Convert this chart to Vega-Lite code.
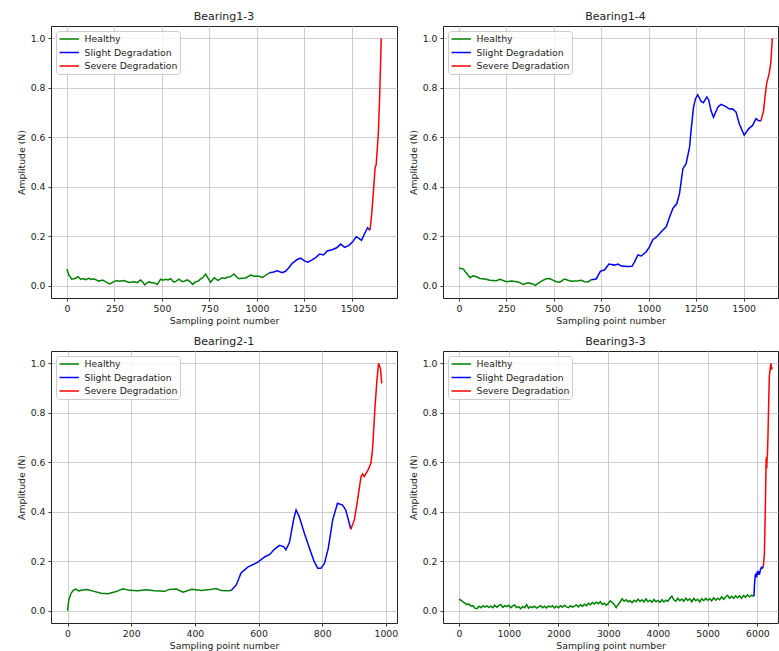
{
  "$schema": "https://vega.github.io/schema/vega-lite/v6.json",
  "padding": {"left": 16, "top": 10, "right": 0, "bottom": 0},
  "autosize": {"type": "pad"},
  "background": "white",
  "config": {
    "font": "DejaVu Sans",
    "view": {"stroke": "#222222", "strokeWidth": 1},
    "axis": {
      "labelFont": "DejaVu Sans", "titleFont": "DejaVu Sans",
      "labelFontSize": 9.3, "titleFontSize": 9.3, "titleFontWeight": "normal",
      "labelColor": "#222222", "titleColor": "#222222", "tickColor": "#222222",
      "tickSize": 3, "tickWidth": 0.9, "labelPadding": 3, "domain": false,
      "grid": true, "gridColor": "#c8c8c8", "gridWidth": 0.9,
      "labelFlush": false, "labelOverlap": false
    },
    "axisY": {"titlePadding": 4},
    "axisX": {"titlePadding": 3},
    "title": {"fontSize": 11, "fontWeight": "normal", "font": "DejaVu Sans", "color": "#222222", "offset": 4, "anchor": "middle"},
    "legend": {
      "orient": "top-left", "offset": 5,
      "symbolType": "M-0.89,0H2.99", "symbolSize": 100, "symbolStrokeWidth": 1.5,
      "labelFont": "DejaVu Sans", "labelFontSize": 9.3, "labelColor": "#222222", "labelOffset": 14.5, "labelLimit": 0,
      "rowPadding": 1.5, "padding": 2,
      "fillColor": "rgba(255,255,255,0.8)", "strokeColor": "#cccccc", "cornerRadius": 3
    },
    "line": {"strokeWidth": 1.5}
  },
  "datasets": {
    "b13": [
      {"x": 0, "y": 0.066, "s": "Healthy"}, {"x": 10, "y": 0.043, "s": "Healthy"}, {"x": 25, "y": 0.026, "s": "Healthy"}, {"x": 46, "y": 0.03, "s": "Healthy"}, {"x": 58, "y": 0.036, "s": "Healthy"}, {"x": 72, "y": 0.026, "s": "Healthy"}, {"x": 85, "y": 0.029, "s": "Healthy"}, {"x": 98, "y": 0.024, "s": "Healthy"}, {"x": 116, "y": 0.03, "s": "Healthy"}, {"x": 130, "y": 0.025, "s": "Healthy"}, {"x": 142, "y": 0.028, "s": "Healthy"}, {"x": 168, "y": 0.018, "s": "Healthy"}, {"x": 186, "y": 0.023, "s": "Healthy"}, {"x": 200, "y": 0.017, "s": "Healthy"}, {"x": 212, "y": 0.012, "s": "Healthy"}, {"x": 226, "y": 0.007, "s": "Healthy"}, {"x": 247, "y": 0.016, "s": "Healthy"}, {"x": 262, "y": 0.021, "s": "Healthy"}, {"x": 274, "y": 0.018, "s": "Healthy"}, {"x": 300, "y": 0.021, "s": "Healthy"}, {"x": 315, "y": 0.016, "s": "Healthy"}, {"x": 326, "y": 0.013, "s": "Healthy"}, {"x": 353, "y": 0.016, "s": "Healthy"}, {"x": 370, "y": 0.012, "s": "Healthy"}, {"x": 388, "y": 0.023, "s": "Healthy"}, {"x": 398, "y": 0.015, "s": "Healthy"}, {"x": 409, "y": 0.003, "s": "Healthy"}, {"x": 420, "y": 0.01, "s": "Healthy"}, {"x": 432, "y": 0.015, "s": "Healthy"}, {"x": 445, "y": 0.012, "s": "Healthy"}, {"x": 458, "y": 0.012, "s": "Healthy"}, {"x": 475, "y": 0.005, "s": "Healthy"}, {"x": 493, "y": 0.026, "s": "Healthy"}, {"x": 505, "y": 0.022, "s": "Healthy"}, {"x": 519, "y": 0.026, "s": "Healthy"}, {"x": 532, "y": 0.023, "s": "Healthy"}, {"x": 546, "y": 0.028, "s": "Healthy"}, {"x": 563, "y": 0.014, "s": "Healthy"}, {"x": 575, "y": 0.018, "s": "Healthy"}, {"x": 589, "y": 0.026, "s": "Healthy"}, {"x": 607, "y": 0.016, "s": "Healthy"}, {"x": 620, "y": 0.019, "s": "Healthy"}, {"x": 633, "y": 0.023, "s": "Healthy"}, {"x": 648, "y": 0.016, "s": "Healthy"}, {"x": 662, "y": 0.005, "s": "Healthy"}, {"x": 677, "y": 0.016, "s": "Healthy"}, {"x": 690, "y": 0.018, "s": "Healthy"}, {"x": 703, "y": 0.026, "s": "Healthy"}, {"x": 718, "y": 0.035, "s": "Healthy"}, {"x": 730, "y": 0.047, "s": "Healthy"}, {"x": 742, "y": 0.03, "s": "Healthy"}, {"x": 756, "y": 0.014, "s": "Healthy"}, {"x": 774, "y": 0.032, "s": "Healthy"}, {"x": 785, "y": 0.026, "s": "Healthy"}, {"x": 795, "y": 0.021, "s": "Healthy"}, {"x": 818, "y": 0.032, "s": "Healthy"}, {"x": 830, "y": 0.029, "s": "Healthy"}, {"x": 844, "y": 0.034, "s": "Healthy"}, {"x": 860, "y": 0.036, "s": "Healthy"}, {"x": 879, "y": 0.047, "s": "Healthy"}, {"x": 892, "y": 0.036, "s": "Healthy"}, {"x": 905, "y": 0.028, "s": "Healthy"}, {"x": 922, "y": 0.03, "s": "Healthy"}, {"x": 940, "y": 0.031, "s": "Healthy"}, {"x": 967, "y": 0.043, "s": "Healthy"}, {"x": 985, "y": 0.038, "s": "Healthy"}, {"x": 1002, "y": 0.039, "s": "Healthy"}, {"x": 1015, "y": 0.037, "s": "Healthy"}, {"x": 1028, "y": 0.033, "s": "Healthy"}, {"x": 1040, "y": 0.038, "s": "Healthy"}, {"x": 1054, "y": 0.047, "s": "Healthy"}, {"x": 1068, "y": 0.052, "s": "Healthy"},
      {"x": 1068, "y": 0.052, "s": "Slight Degradation"}, {"x": 1088, "y": 0.055, "s": "Slight Degradation"}, {"x": 1107, "y": 0.06, "s": "Slight Degradation"}, {"x": 1133, "y": 0.052, "s": "Slight Degradation"}, {"x": 1150, "y": 0.058, "s": "Slight Degradation"}, {"x": 1163, "y": 0.068, "s": "Slight Degradation"}, {"x": 1186, "y": 0.09, "s": "Slight Degradation"}, {"x": 1212, "y": 0.106, "s": "Slight Degradation"}, {"x": 1230, "y": 0.111, "s": "Slight Degradation"}, {"x": 1250, "y": 0.1, "s": "Slight Degradation"}, {"x": 1268, "y": 0.095, "s": "Slight Degradation"}, {"x": 1290, "y": 0.104, "s": "Slight Degradation"}, {"x": 1309, "y": 0.113, "s": "Slight Degradation"}, {"x": 1330, "y": 0.128, "s": "Slight Degradation"}, {"x": 1350, "y": 0.124, "s": "Slight Degradation"}, {"x": 1370, "y": 0.14, "s": "Slight Degradation"}, {"x": 1395, "y": 0.145, "s": "Slight Degradation"}, {"x": 1420, "y": 0.153, "s": "Slight Degradation"}, {"x": 1440, "y": 0.168, "s": "Slight Degradation"}, {"x": 1462, "y": 0.155, "s": "Slight Degradation"}, {"x": 1484, "y": 0.163, "s": "Slight Degradation"}, {"x": 1505, "y": 0.178, "s": "Slight Degradation"}, {"x": 1522, "y": 0.198, "s": "Slight Degradation"}, {"x": 1538, "y": 0.19, "s": "Slight Degradation"}, {"x": 1550, "y": 0.183, "s": "Slight Degradation"}, {"x": 1567, "y": 0.211, "s": "Slight Degradation"}, {"x": 1582, "y": 0.234, "s": "Slight Degradation"}, {"x": 1595, "y": 0.224, "s": "Slight Degradation"},
      {"x": 1595, "y": 0.224, "s": "Severe Degradation"}, {"x": 1605, "y": 0.3, "s": "Severe Degradation"}, {"x": 1613, "y": 0.38, "s": "Severe Degradation"}, {"x": 1622, "y": 0.48, "s": "Severe Degradation"}, {"x": 1627, "y": 0.487, "s": "Severe Degradation"}, {"x": 1633, "y": 0.55, "s": "Severe Degradation"}, {"x": 1639, "y": 0.62, "s": "Severe Degradation"}, {"x": 1645, "y": 0.75, "s": "Severe Degradation"}, {"x": 1650, "y": 0.88, "s": "Severe Degradation"}, {"x": 1654, "y": 1.0, "s": "Severe Degradation"}
    ],
    "b14": [
      {"x": 0, "y": 0.071, "s": "Healthy"}, {"x": 23, "y": 0.067, "s": "Healthy"}, {"x": 40, "y": 0.05, "s": "Healthy"}, {"x": 58, "y": 0.033, "s": "Healthy"}, {"x": 75, "y": 0.04, "s": "Healthy"}, {"x": 93, "y": 0.036, "s": "Healthy"}, {"x": 110, "y": 0.029, "s": "Healthy"}, {"x": 137, "y": 0.027, "s": "Healthy"}, {"x": 163, "y": 0.022, "s": "Healthy"}, {"x": 198, "y": 0.02, "s": "Healthy"}, {"x": 215, "y": 0.026, "s": "Healthy"}, {"x": 251, "y": 0.016, "s": "Healthy"}, {"x": 277, "y": 0.019, "s": "Healthy"}, {"x": 312, "y": 0.015, "s": "Healthy"}, {"x": 338, "y": 0.005, "s": "Healthy"}, {"x": 364, "y": 0.012, "s": "Healthy"}, {"x": 385, "y": 0.008, "s": "Healthy"}, {"x": 403, "y": 0.001, "s": "Healthy"}, {"x": 426, "y": 0.014, "s": "Healthy"}, {"x": 445, "y": 0.022, "s": "Healthy"}, {"x": 461, "y": 0.028, "s": "Healthy"}, {"x": 478, "y": 0.029, "s": "Healthy"}, {"x": 495, "y": 0.022, "s": "Healthy"}, {"x": 513, "y": 0.016, "s": "Healthy"}, {"x": 531, "y": 0.014, "s": "Healthy"}, {"x": 557, "y": 0.027, "s": "Healthy"}, {"x": 575, "y": 0.022, "s": "Healthy"}, {"x": 592, "y": 0.018, "s": "Healthy"}, {"x": 627, "y": 0.02, "s": "Healthy"}, {"x": 645, "y": 0.022, "s": "Healthy"}, {"x": 662, "y": 0.016, "s": "Healthy"}, {"x": 680, "y": 0.015, "s": "Healthy"}, {"x": 697, "y": 0.024, "s": "Healthy"},
      {"x": 697, "y": 0.024, "s": "Slight Degradation"}, {"x": 723, "y": 0.027, "s": "Slight Degradation"}, {"x": 745, "y": 0.058, "s": "Slight Degradation"}, {"x": 768, "y": 0.064, "s": "Slight Degradation"}, {"x": 790, "y": 0.087, "s": "Slight Degradation"}, {"x": 820, "y": 0.083, "s": "Slight Degradation"}, {"x": 838, "y": 0.087, "s": "Slight Degradation"}, {"x": 855, "y": 0.079, "s": "Slight Degradation"}, {"x": 890, "y": 0.077, "s": "Slight Degradation"}, {"x": 912, "y": 0.078, "s": "Slight Degradation"}, {"x": 926, "y": 0.097, "s": "Slight Degradation"}, {"x": 943, "y": 0.124, "s": "Slight Degradation"}, {"x": 961, "y": 0.12, "s": "Slight Degradation"}, {"x": 987, "y": 0.137, "s": "Slight Degradation"}, {"x": 1004, "y": 0.157, "s": "Slight Degradation"}, {"x": 1022, "y": 0.187, "s": "Slight Degradation"}, {"x": 1039, "y": 0.195, "s": "Slight Degradation"}, {"x": 1066, "y": 0.218, "s": "Slight Degradation"}, {"x": 1092, "y": 0.238, "s": "Slight Degradation"}, {"x": 1110, "y": 0.278, "s": "Slight Degradation"}, {"x": 1127, "y": 0.312, "s": "Slight Degradation"}, {"x": 1148, "y": 0.332, "s": "Slight Degradation"}, {"x": 1162, "y": 0.372, "s": "Slight Degradation"}, {"x": 1180, "y": 0.473, "s": "Slight Degradation"}, {"x": 1197, "y": 0.493, "s": "Slight Degradation"}, {"x": 1215, "y": 0.56, "s": "Slight Degradation"}, {"x": 1223, "y": 0.628, "s": "Slight Degradation"}, {"x": 1236, "y": 0.722, "s": "Slight Degradation"}, {"x": 1246, "y": 0.755, "s": "Slight Degradation"}, {"x": 1258, "y": 0.772, "s": "Slight Degradation"}, {"x": 1276, "y": 0.745, "s": "Slight Degradation"}, {"x": 1288, "y": 0.74, "s": "Slight Degradation"}, {"x": 1306, "y": 0.763, "s": "Slight Degradation"}, {"x": 1316, "y": 0.751, "s": "Slight Degradation"}, {"x": 1328, "y": 0.708, "s": "Slight Degradation"}, {"x": 1341, "y": 0.681, "s": "Slight Degradation"}, {"x": 1364, "y": 0.722, "s": "Slight Degradation"}, {"x": 1381, "y": 0.733, "s": "Slight Degradation"}, {"x": 1407, "y": 0.724, "s": "Slight Degradation"}, {"x": 1425, "y": 0.714, "s": "Slight Degradation"}, {"x": 1442, "y": 0.715, "s": "Slight Degradation"}, {"x": 1460, "y": 0.702, "s": "Slight Degradation"}, {"x": 1477, "y": 0.655, "s": "Slight Degradation"}, {"x": 1503, "y": 0.608, "s": "Slight Degradation"}, {"x": 1526, "y": 0.634, "s": "Slight Degradation"}, {"x": 1547, "y": 0.648, "s": "Slight Degradation"}, {"x": 1565, "y": 0.675, "s": "Slight Degradation"}, {"x": 1577, "y": 0.668, "s": "Slight Degradation"}, {"x": 1591, "y": 0.666, "s": "Slight Degradation"},
      {"x": 1591, "y": 0.666, "s": "Severe Degradation"}, {"x": 1605, "y": 0.708, "s": "Severe Degradation"}, {"x": 1615, "y": 0.78, "s": "Severe Degradation"}, {"x": 1622, "y": 0.82, "s": "Severe Degradation"}, {"x": 1634, "y": 0.856, "s": "Severe Degradation"}, {"x": 1643, "y": 0.9, "s": "Severe Degradation"}, {"x": 1651, "y": 1.0, "s": "Severe Degradation"}
    ],
    "b21": [
      {"x": 0, "y": 0.0, "s": "Healthy"}, {"x": 4, "y": 0.043, "s": "Healthy"}, {"x": 11, "y": 0.07, "s": "Healthy"}, {"x": 18, "y": 0.082, "s": "Healthy"}, {"x": 26, "y": 0.087, "s": "Healthy"}, {"x": 35, "y": 0.08, "s": "Healthy"}, {"x": 48, "y": 0.083, "s": "Healthy"}, {"x": 62, "y": 0.085, "s": "Healthy"}, {"x": 80, "y": 0.079, "s": "Healthy"}, {"x": 106, "y": 0.07, "s": "Healthy"}, {"x": 127, "y": 0.068, "s": "Healthy"}, {"x": 153, "y": 0.077, "s": "Healthy"}, {"x": 174, "y": 0.088, "s": "Healthy"}, {"x": 195, "y": 0.082, "s": "Healthy"}, {"x": 221, "y": 0.08, "s": "Healthy"}, {"x": 247, "y": 0.084, "s": "Healthy"}, {"x": 273, "y": 0.08, "s": "Healthy"}, {"x": 305, "y": 0.078, "s": "Healthy"}, {"x": 320, "y": 0.086, "s": "Healthy"}, {"x": 342, "y": 0.087, "s": "Healthy"}, {"x": 363, "y": 0.075, "s": "Healthy"}, {"x": 390, "y": 0.086, "s": "Healthy"}, {"x": 420, "y": 0.081, "s": "Healthy"}, {"x": 446, "y": 0.085, "s": "Healthy"}, {"x": 467, "y": 0.089, "s": "Healthy"}, {"x": 483, "y": 0.081, "s": "Healthy"}, {"x": 504, "y": 0.08, "s": "Healthy"}, {"x": 514, "y": 0.081, "s": "Healthy"},
      {"x": 514, "y": 0.081, "s": "Slight Degradation"}, {"x": 530, "y": 0.104, "s": "Slight Degradation"}, {"x": 545, "y": 0.152, "s": "Slight Degradation"}, {"x": 566, "y": 0.176, "s": "Slight Degradation"}, {"x": 598, "y": 0.196, "s": "Slight Degradation"}, {"x": 619, "y": 0.217, "s": "Slight Degradation"}, {"x": 635, "y": 0.227, "s": "Slight Degradation"}, {"x": 650, "y": 0.248, "s": "Slight Degradation"}, {"x": 666, "y": 0.264, "s": "Slight Degradation"}, {"x": 680, "y": 0.258, "s": "Slight Degradation"}, {"x": 686, "y": 0.246, "s": "Slight Degradation"}, {"x": 697, "y": 0.275, "s": "Slight Degradation"}, {"x": 711, "y": 0.373, "s": "Slight Degradation"}, {"x": 718, "y": 0.407, "s": "Slight Degradation"}, {"x": 728, "y": 0.38, "s": "Slight Degradation"}, {"x": 744, "y": 0.313, "s": "Slight Degradation"}, {"x": 760, "y": 0.252, "s": "Slight Degradation"}, {"x": 775, "y": 0.198, "s": "Slight Degradation"}, {"x": 786, "y": 0.171, "s": "Slight Degradation"}, {"x": 796, "y": 0.171, "s": "Slight Degradation"}, {"x": 807, "y": 0.191, "s": "Slight Degradation"}, {"x": 819, "y": 0.252, "s": "Slight Degradation"}, {"x": 833, "y": 0.367, "s": "Slight Degradation"}, {"x": 848, "y": 0.434, "s": "Slight Degradation"}, {"x": 864, "y": 0.427, "s": "Slight Degradation"}, {"x": 874, "y": 0.407, "s": "Slight Degradation"}, {"x": 885, "y": 0.353, "s": "Slight Degradation"}, {"x": 890, "y": 0.329, "s": "Slight Degradation"},
      {"x": 890, "y": 0.329, "s": "Severe Degradation"}, {"x": 901, "y": 0.367, "s": "Severe Degradation"}, {"x": 911, "y": 0.447, "s": "Severe Degradation"}, {"x": 922, "y": 0.542, "s": "Severe Degradation"}, {"x": 927, "y": 0.553, "s": "Severe Degradation"}, {"x": 932, "y": 0.542, "s": "Severe Degradation"}, {"x": 943, "y": 0.566, "s": "Severe Degradation"}, {"x": 953, "y": 0.596, "s": "Severe Degradation"}, {"x": 958, "y": 0.65, "s": "Severe Degradation"}, {"x": 966, "y": 0.825, "s": "Severe Degradation"}, {"x": 972, "y": 0.933, "s": "Severe Degradation"}, {"x": 977, "y": 1.0, "s": "Severe Degradation"}, {"x": 983, "y": 0.98, "s": "Severe Degradation"}, {"x": 987, "y": 0.919, "s": "Severe Degradation"}
    ],
    "b33": [
      {"x": 0, "y": 0.046, "s": "Healthy"}, {"x": 40, "y": 0.042, "s": "Healthy"}, {"x": 80, "y": 0.035, "s": "Healthy"}, {"x": 120, "y": 0.03, "s": "Healthy"}, {"x": 160, "y": 0.024, "s": "Healthy"}, {"x": 200, "y": 0.027, "s": "Healthy"}, {"x": 240, "y": 0.018, "s": "Healthy"}, {"x": 280, "y": 0.02, "s": "Healthy"}, {"x": 320, "y": 0.01, "s": "Healthy"}, {"x": 360, "y": 0.008, "s": "Healthy"}, {"x": 400, "y": 0.018, "s": "Healthy"}, {"x": 440, "y": 0.012, "s": "Healthy"}, {"x": 480, "y": 0.02, "s": "Healthy"}, {"x": 520, "y": 0.014, "s": "Healthy"}, {"x": 560, "y": 0.019, "s": "Healthy"}, {"x": 600, "y": 0.013, "s": "Healthy"}, {"x": 640, "y": 0.018, "s": "Healthy"}, {"x": 680, "y": 0.012, "s": "Healthy"}, {"x": 720, "y": 0.022, "s": "Healthy"}, {"x": 760, "y": 0.014, "s": "Healthy"}, {"x": 800, "y": 0.02, "s": "Healthy"}, {"x": 840, "y": 0.025, "s": "Healthy"}, {"x": 880, "y": 0.013, "s": "Healthy"}, {"x": 920, "y": 0.02, "s": "Healthy"}, {"x": 960, "y": 0.016, "s": "Healthy"}, {"x": 1000, "y": 0.022, "s": "Healthy"}, {"x": 1040, "y": 0.012, "s": "Healthy"}, {"x": 1080, "y": 0.019, "s": "Healthy"}, {"x": 1120, "y": 0.023, "s": "Healthy"}, {"x": 1160, "y": 0.012, "s": "Healthy"}, {"x": 1200, "y": 0.016, "s": "Healthy"}, {"x": 1240, "y": 0.008, "s": "Healthy"}, {"x": 1280, "y": 0.017, "s": "Healthy"}, {"x": 1320, "y": 0.012, "s": "Healthy"}, {"x": 1360, "y": 0.024, "s": "Healthy"}, {"x": 1400, "y": 0.01, "s": "Healthy"}, {"x": 1440, "y": 0.016, "s": "Healthy"}, {"x": 1480, "y": 0.012, "s": "Healthy"}, {"x": 1520, "y": 0.018, "s": "Healthy"}, {"x": 1560, "y": 0.01, "s": "Healthy"}, {"x": 1600, "y": 0.015, "s": "Healthy"}, {"x": 1640, "y": 0.02, "s": "Healthy"}, {"x": 1680, "y": 0.012, "s": "Healthy"}, {"x": 1720, "y": 0.018, "s": "Healthy"}, {"x": 1760, "y": 0.011, "s": "Healthy"}, {"x": 1800, "y": 0.019, "s": "Healthy"}, {"x": 1840, "y": 0.014, "s": "Healthy"}, {"x": 1880, "y": 0.02, "s": "Healthy"}, {"x": 1920, "y": 0.011, "s": "Healthy"}, {"x": 1960, "y": 0.018, "s": "Healthy"}, {"x": 2000, "y": 0.012, "s": "Healthy"}, {"x": 2040, "y": 0.02, "s": "Healthy"}, {"x": 2080, "y": 0.014, "s": "Healthy"}, {"x": 2120, "y": 0.022, "s": "Healthy"}, {"x": 2160, "y": 0.015, "s": "Healthy"}, {"x": 2200, "y": 0.012, "s": "Healthy"}, {"x": 2240, "y": 0.02, "s": "Healthy"}, {"x": 2280, "y": 0.014, "s": "Healthy"}, {"x": 2320, "y": 0.018, "s": "Healthy"}, {"x": 2360, "y": 0.023, "s": "Healthy"}, {"x": 2400, "y": 0.015, "s": "Healthy"}, {"x": 2440, "y": 0.024, "s": "Healthy"}, {"x": 2480, "y": 0.017, "s": "Healthy"}, {"x": 2520, "y": 0.026, "s": "Healthy"}, {"x": 2560, "y": 0.02, "s": "Healthy"}, {"x": 2600, "y": 0.03, "s": "Healthy"}, {"x": 2640, "y": 0.024, "s": "Healthy"}, {"x": 2680, "y": 0.033, "s": "Healthy"}, {"x": 2720, "y": 0.027, "s": "Healthy"}, {"x": 2760, "y": 0.034, "s": "Healthy"}, {"x": 2800, "y": 0.028, "s": "Healthy"}, {"x": 2840, "y": 0.036, "s": "Healthy"}, {"x": 2880, "y": 0.025, "s": "Healthy"}, {"x": 2920, "y": 0.03, "s": "Healthy"}, {"x": 2960, "y": 0.022, "s": "Healthy"}, {"x": 3000, "y": 0.028, "s": "Healthy"}, {"x": 3040, "y": 0.04, "s": "Healthy"}, {"x": 3080, "y": 0.034, "s": "Healthy"}, {"x": 3120, "y": 0.025, "s": "Healthy"}, {"x": 3160, "y": 0.012, "s": "Healthy"}, {"x": 3200, "y": 0.025, "s": "Healthy"}, {"x": 3240, "y": 0.035, "s": "Healthy"}, {"x": 3280, "y": 0.048, "s": "Healthy"}, {"x": 3320, "y": 0.038, "s": "Healthy"}, {"x": 3360, "y": 0.044, "s": "Healthy"}, {"x": 3400, "y": 0.036, "s": "Healthy"}, {"x": 3440, "y": 0.04, "s": "Healthy"}, {"x": 3480, "y": 0.032, "s": "Healthy"}, {"x": 3520, "y": 0.042, "s": "Healthy"}, {"x": 3560, "y": 0.036, "s": "Healthy"}, {"x": 3600, "y": 0.046, "s": "Healthy"}, {"x": 3640, "y": 0.037, "s": "Healthy"}, {"x": 3680, "y": 0.044, "s": "Healthy"}, {"x": 3720, "y": 0.035, "s": "Healthy"}, {"x": 3760, "y": 0.048, "s": "Healthy"}, {"x": 3800, "y": 0.036, "s": "Healthy"}, {"x": 3840, "y": 0.042, "s": "Healthy"}, {"x": 3880, "y": 0.034, "s": "Healthy"}, {"x": 3920, "y": 0.045, "s": "Healthy"}, {"x": 3960, "y": 0.036, "s": "Healthy"}, {"x": 4000, "y": 0.041, "s": "Healthy"}, {"x": 4040, "y": 0.033, "s": "Healthy"}, {"x": 4080, "y": 0.044, "s": "Healthy"}, {"x": 4120, "y": 0.035, "s": "Healthy"}, {"x": 4160, "y": 0.042, "s": "Healthy"}, {"x": 4200, "y": 0.038, "s": "Healthy"}, {"x": 4240, "y": 0.05, "s": "Healthy"}, {"x": 4280, "y": 0.058, "s": "Healthy"}, {"x": 4320, "y": 0.044, "s": "Healthy"}, {"x": 4360, "y": 0.038, "s": "Healthy"}, {"x": 4400, "y": 0.05, "s": "Healthy"}, {"x": 4440, "y": 0.04, "s": "Healthy"}, {"x": 4480, "y": 0.047, "s": "Healthy"}, {"x": 4520, "y": 0.038, "s": "Healthy"}, {"x": 4560, "y": 0.05, "s": "Healthy"}, {"x": 4600, "y": 0.041, "s": "Healthy"}, {"x": 4640, "y": 0.048, "s": "Healthy"}, {"x": 4680, "y": 0.036, "s": "Healthy"}, {"x": 4720, "y": 0.05, "s": "Healthy"}, {"x": 4760, "y": 0.04, "s": "Healthy"}, {"x": 4800, "y": 0.046, "s": "Healthy"}, {"x": 4840, "y": 0.035, "s": "Healthy"}, {"x": 4880, "y": 0.048, "s": "Healthy"}, {"x": 4920, "y": 0.04, "s": "Healthy"}, {"x": 4960, "y": 0.05, "s": "Healthy"}, {"x": 5000, "y": 0.042, "s": "Healthy"}, {"x": 5040, "y": 0.048, "s": "Healthy"}, {"x": 5080, "y": 0.04, "s": "Healthy"}, {"x": 5120, "y": 0.052, "s": "Healthy"}, {"x": 5160, "y": 0.042, "s": "Healthy"}, {"x": 5200, "y": 0.05, "s": "Healthy"}, {"x": 5240, "y": 0.044, "s": "Healthy"}, {"x": 5280, "y": 0.056, "s": "Healthy"}, {"x": 5320, "y": 0.046, "s": "Healthy"}, {"x": 5360, "y": 0.055, "s": "Healthy"}, {"x": 5400, "y": 0.062, "s": "Healthy"}, {"x": 5440, "y": 0.05, "s": "Healthy"}, {"x": 5480, "y": 0.058, "s": "Healthy"}, {"x": 5520, "y": 0.05, "s": "Healthy"}, {"x": 5560, "y": 0.06, "s": "Healthy"}, {"x": 5600, "y": 0.052, "s": "Healthy"}, {"x": 5640, "y": 0.06, "s": "Healthy"}, {"x": 5680, "y": 0.05, "s": "Healthy"}, {"x": 5720, "y": 0.062, "s": "Healthy"}, {"x": 5760, "y": 0.054, "s": "Healthy"}, {"x": 5800, "y": 0.064, "s": "Healthy"}, {"x": 5840, "y": 0.056, "s": "Healthy"}, {"x": 5880, "y": 0.062, "s": "Healthy"}, {"x": 5932, "y": 0.058, "s": "Healthy"},
      {"x": 5932, "y": 0.058, "s": "Slight Degradation"}, {"x": 5940, "y": 0.1, "s": "Slight Degradation"}, {"x": 5955, "y": 0.14, "s": "Slight Degradation"}, {"x": 5970, "y": 0.15, "s": "Slight Degradation"}, {"x": 5985, "y": 0.135, "s": "Slight Degradation"}, {"x": 6000, "y": 0.16, "s": "Slight Degradation"}, {"x": 6015, "y": 0.145, "s": "Slight Degradation"}, {"x": 6030, "y": 0.155, "s": "Slight Degradation"}, {"x": 6045, "y": 0.15, "s": "Slight Degradation"}, {"x": 6060, "y": 0.165, "s": "Slight Degradation"}, {"x": 6080, "y": 0.175, "s": "Slight Degradation"}, {"x": 6100, "y": 0.172, "s": "Slight Degradation"}, {"x": 6120, "y": 0.18, "s": "Slight Degradation"},
      {"x": 6120, "y": 0.18, "s": "Severe Degradation"}, {"x": 6140, "y": 0.23, "s": "Severe Degradation"}, {"x": 6160, "y": 0.42, "s": "Severe Degradation"}, {"x": 6175, "y": 0.609, "s": "Severe Degradation"}, {"x": 6182, "y": 0.62, "s": "Severe Degradation"}, {"x": 6188, "y": 0.575, "s": "Severe Degradation"}, {"x": 6195, "y": 0.62, "s": "Severe Degradation"}, {"x": 6203, "y": 0.636, "s": "Severe Degradation"}, {"x": 6215, "y": 0.73, "s": "Severe Degradation"}, {"x": 6228, "y": 0.85, "s": "Severe Degradation"}, {"x": 6240, "y": 0.95, "s": "Severe Degradation"}, {"x": 6255, "y": 0.975, "s": "Severe Degradation"}, {"x": 6270, "y": 1.0, "s": "Severe Degradation"}, {"x": 6285, "y": 0.975, "s": "Severe Degradation"}, {"x": 6298, "y": 0.985, "s": "Severe Degradation"}
    ]
  },
  "resolve": {"scale": {"color": "independent"}, "legend": {"color": "independent"}},
  "spacing": 8,
  "vconcat": [
    {
      "spacing": 10,
      "resolve": {"scale": {"color": "independent"}, "legend": {"color": "independent"}},
      "hconcat": [
        {
          "title": "Bearing1-3",
          "width": 346, "height": 272,
          "data": {"name": "b13"},
          "mark": {"type": "line", "clip": true},
          "encoding": {
            "x": {"field": "x", "type": "quantitative", "scale": {"domain": [-84, 1737], "nice": false, "zero": false}, "axis": {"values": [0, 250, 500, 750, 1000, 1250, 1500], "format": "d", "title": "Sampling point number"}},
            "y": {"field": "y", "type": "quantitative", "scale": {"domain": [-0.05, 1.05], "nice": false, "zero": false}, "axis": {"values": [0, 0.2, 0.4, 0.6, 0.8, 1.0], "format": ".1f", "title": "Amplitude (N)"}},
            "color": {"field": "s", "type": "nominal", "scale": {"domain": ["Healthy", "Slight Degradation", "Severe Degradation"], "range": ["#008000", "#0000ff", "#ff0000"]}, "legend": {"title": null}}
          }
        },
        {
          "title": {"text": "Bearing1-4", "dx": 5},
          "width": 335, "height": 272,
          "data": {"name": "b14"},
          "mark": {"type": "line", "clip": true},
          "encoding": {
            "x": {"field": "x", "type": "quantitative", "scale": {"domain": [-84, 1681], "nice": false, "zero": false}, "axis": {"values": [0, 250, 500, 750, 1000, 1250, 1500], "format": "d", "title": "Sampling point number"}},
            "y": {"field": "y", "type": "quantitative", "scale": {"domain": [-0.05, 1.05], "nice": false, "zero": false}, "axis": {"values": [0, 0.2, 0.4, 0.6, 0.8, 1.0], "format": ".1f", "title": "Amplitude (N)"}},
            "color": {"field": "s", "type": "nominal", "scale": {"domain": ["Healthy", "Slight Degradation", "Severe Degradation"], "range": ["#008000", "#0000ff", "#ff0000"]}, "legend": {"title": null}}
          }
        }
      ]
    },
    {
      "spacing": 9,
      "resolve": {"scale": {"color": "independent"}, "legend": {"color": "independent"}},
      "hconcat": [
        {
          "title": "Bearing2-1",
          "width": 346, "height": 272,
          "data": {"name": "b21"},
          "mark": {"type": "line", "clip": true},
          "encoding": {
            "x": {"field": "x", "type": "quantitative", "scale": {"domain": [-52, 1035], "nice": false, "zero": false}, "axis": {"values": [0, 200, 400, 600, 800, 1000], "format": "d", "title": "Sampling point number"}},
            "y": {"field": "y", "type": "quantitative", "scale": {"domain": [-0.05, 1.05], "nice": false, "zero": false}, "axis": {"values": [0, 0.2, 0.4, 0.6, 0.8, 1.0], "format": ".1f", "title": "Amplitude (N)"}},
            "color": {"field": "s", "type": "nominal", "scale": {"domain": ["Healthy", "Slight Degradation", "Severe Degradation"], "range": ["#008000", "#0000ff", "#ff0000"]}, "legend": {"title": null}}
          }
        },
        {
          "title": {"text": "Bearing3-3", "dx": 5},
          "width": 335, "height": 272,
          "data": {"name": "b33"},
          "mark": {"type": "line", "clip": true},
          "encoding": {
            "x": {"field": "x", "type": "quantitative", "scale": {"domain": [-322, 6414], "nice": false, "zero": false}, "axis": {"values": [0, 1000, 2000, 3000, 4000, 5000, 6000], "format": "d", "title": "Sampling point number"}},
            "y": {"field": "y", "type": "quantitative", "scale": {"domain": [-0.05, 1.05], "nice": false, "zero": false}, "axis": {"values": [0, 0.2, 0.4, 0.6, 0.8, 1.0], "format": ".1f", "title": "Amplitude (N)"}},
            "color": {"field": "s", "type": "nominal", "scale": {"domain": ["Healthy", "Slight Degradation", "Severe Degradation"], "range": ["#008000", "#0000ff", "#ff0000"]}, "legend": {"title": null}}
          }
        }
      ]
    }
  ]
}
